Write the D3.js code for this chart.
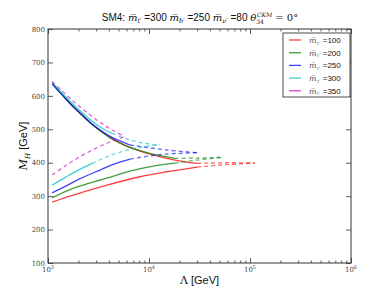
<!DOCTYPE html>
<html>
<head>
<meta charset="utf-8">
<script src="https://cdn.jsdelivr.net/npm/d3@7"></script>
<style>
  body { margin: 0; background: #fff; }
  svg { display: block; }
</style>
</head>
<body>
<svg id="chart" width="390" height="293"></svg>
<script>
// series labels (m_tau' values) and colours
const masses = [100, 200, 250, 300, 350];
const colors = ['#ff0000', '#008000', '#0000ff', '#00bfbf', '#bf00bf'];

// lower (vacuum stability) branches, [Lambda GeV, M_H GeV]
const lower100 = [[1100, 282], [1770, 303], [3840, 333], [8150, 358], [15000, 373], [30000, 387], [56000, 394], [112000, 399]];
const lower200 = [[1100, 295], [1770, 323], [3840, 354], [6500, 375], [11000, 390], [18000, 399], [30000, 408], [53000, 416]];
const lower250 = [[1100, 310], [1500, 330], [2000, 350], [3270, 378], [4500, 396], [6500, 411], [10000, 420], [15000, 426], [30000, 430]];
const lower300 = [[1100, 333], [1500, 357], [2000, 378], [2750, 398], [4000, 420], [6000, 437], [9000, 448], [12800, 453]];
const lower350 = [[1100, 363], [1473, 390], [2075, 418], [2920, 442], [4110, 462], [5780, 478]];

// upper (triviality) branches
const upper100 = [[1100, 638], [1377, 605], [1730, 572], [2173, 543], [2730, 515], [3430, 492], [4305, 472], [5780, 452], [8150, 435], [11460, 422], [18090, 408], [29870, 398], [60000, 400], [112000, 399]];
const upper200 = [[1100, 637], [1377, 604], [1730, 571], [2173, 542], [2730, 514], [3430, 491], [4305, 471], [5780, 452], [8150, 436], [11460, 424], [18000, 413], [30000, 414], [53000, 416]];
const upper250 = [[1100, 635], [1377, 603], [1730, 571], [2173, 543], [2730, 516], [3430, 494], [4305, 476], [6500, 453], [15000, 438], [30000, 430]];
const upper300 = [[1100, 640], [1377, 608], [1730, 578], [2173, 550], [2730, 524], [3430, 503], [4300, 488], [6500, 468], [9000, 458], [12800, 453]];
const upper350 = [[1100, 643], [1377, 615], [1730, 587], [2173, 562], [2730, 538], [3430, 517], [4305, 498], [5780, 478]];

// Lambda where the solid part of each branch stops (dashed after)
const lowerSolidTo = [30000, 18000, 6500, 2750, 1100];
const upperSolidTo = [29870, 18000, 6500, 4300, 1100];

const lowers = [lower100, lower200, lower250, lower300, lower350];
const uppers = [upper100, upper200, upper250, upper300, upper350];

const yTicks = [100, 200, 300, 400, 500, 600, 700, 800];
const xTicks = [1e3, 1e4, 1e5, 1e6];

const pLeft = 48, pRight = 351, pTop = 29, pBottom = 263;
const svg = d3.select('#chart');

const x = d3.scaleLog().domain([1e3, 1e6]).range([pLeft, pRight]);
const y = d3.scaleLinear().domain([100, 800]).range([pBottom, pTop]);

let minor = [];
for (let e = 3; e < 6; e++) {
  for (let k = 2; k < 10; k++) minor.push(k * Math.pow(10, e));
}

const serif = "'DejaVu Serif', 'Liberation Serif', serif";
const sans = "'Liberation Sans', 'DejaVu Sans', sans-serif";

// curves
const line = d3.line()
  .x(d => x(d[0]))
  .y(d => y(d[1]))
  .curve(d3.curveCatmullRom.alpha(0.5));

const plot = svg.append('g');

const drawBranch = (pts, cut, color) => {
  let solid = pts.filter(d => d[0] <= cut);
  let dashed = pts.filter(d => d[0] >= cut);
  if (solid.length > 1) {
    plot.append('path')
    .attr('d', line(solid))
    .attr('fill', 'none')
    .attr('stroke', color)
    .attr('stroke-opacity', 0.75)
    .attr('stroke-width', 1.3);
  }
  if (dashed.length > 1) {
    plot.append('path')
    .attr('d', line(dashed))
    .attr('fill', 'none')
    .attr('stroke', color)
    .attr('stroke-opacity', 0.6)
    .attr('stroke-width', 1.3)
    .attr('stroke-dasharray', '4,3');
  }
};

for (let i = 0; i < masses.length; i++) {
  drawBranch(lowers[i], lowerSolidTo[i], colors[i]);
  drawBranch(uppers[i], upperSolidTo[i], colors[i]);
}

// axes, ticks pointing inward
const tickStyle = (g) => {
  g.select('.domain').remove();
  g.selectAll('line').attr('stroke', '#333').attr('stroke-width', 0.8);
};

svg.append('g')
.attr('transform', `translate(0,${pBottom})`)
.call(d3.axisBottom(x).tickValues(xTicks).tickSizeInner(-5).tickFormat(() => ''))
.call(tickStyle);
svg.append('g')
.attr('transform', `translate(0,${pBottom})`)
.call(d3.axisBottom(x).tickValues(minor).tickSizeInner(-2.5).tickFormat(() => ''))
.call(tickStyle);
svg.append('g')
.attr('transform', `translate(0,${pTop})`)
.call(d3.axisTop(x).tickValues(xTicks).tickSizeInner(-5).tickFormat(() => ''))
.call(tickStyle);
svg.append('g')
.attr('transform', `translate(0,${pTop})`)
.call(d3.axisTop(x).tickValues(minor).tickSizeInner(-2.5).tickFormat(() => ''))
.call(tickStyle);

const yAxis = svg.append('g')
.attr('transform', `translate(${pLeft},0)`)
.call(d3.axisLeft(y).tickValues(yTicks).tickSizeInner(-5).tickPadding(3))
.call(tickStyle);
yAxis.selectAll('text')
.attr('font-family', serif)
.attr('font-size', 7)
.attr('fill', '#444');

svg.append('g')
.attr('transform', `translate(${pRight},0)`)
.call(d3.axisRight(y).tickValues(yTicks).tickSizeInner(-5).tickFormat(() => ''))
.call(tickStyle);

// x tick labels 10^n
xTicks.forEach(v => {
  let t = svg.append('text')
  .attr('x', x(v))
  .attr('y', pBottom + 9)
  .attr('text-anchor', 'middle')
  .attr('font-family', serif)
  .attr('font-size', 7)
  .attr('fill', '#444');
  t.append('tspan').text('10');
  t.append('tspan').attr('dy', -3).attr('font-size', 5).text(Math.log10(v));
});

// frame
svg.append('rect')
.attr('x', pLeft)
.attr('y', pTop)
.attr('width', pRight - pLeft)
.attr('height', pBottom - pTop)
.attr('fill', 'none')
.attr('stroke', '#333')
.attr('stroke-width', 1);

// title
const title = svg.append('text')
.attr('x', 200)
.attr('y', 21)
.attr('text-anchor', 'middle')
.attr('font-family', sans)
.attr('font-size', 10)
.attr('fill', '#111');

const mbar = (parent, sub, value) => {
  parent.append('tspan').attr('font-family', serif).attr('font-style', 'italic').text('m\u0305');
  parent.append('tspan').attr('font-family', serif).attr('font-style', 'italic')
  .attr('font-size', 6.5).attr('dy', 2).text(sub);
  parent.append('tspan').attr('dy', -2).text(' =' + value + ' ');
};
title.append('tspan').text('SM4: ');
mbar(title, "t\u2032", 300);
mbar(title, "b\u2032", 250);
mbar(title, "\u03bd\u2032", 80);
title.append('tspan').attr('font-family', serif).attr('font-style', 'italic').text('\u03b8');
title.append('tspan').attr('font-family', serif).attr('font-size', 6).attr('dy', 2.5).text('34');
title.append('tspan').attr('font-family', serif).attr('font-style', 'italic').attr('font-size', 6)
.attr('dx', -7).attr('dy', -7).text('CKM');
title.append('tspan').attr('font-family', serif).attr('dy', 4.5).text(' = 0\u00b0');

// axis labels
const yl = svg.append('text')
.attr('transform', `translate(27,${(pTop + pBottom) / 2}) rotate(-90)`)
.attr('text-anchor', 'middle')
.attr('font-family', sans)
.attr('font-size', 11)
.attr('fill', '#111');
yl.append('tspan').attr('font-family', serif).attr('font-style', 'italic').text('M');
yl.append('tspan').attr('font-family', serif).attr('font-style', 'italic').attr('font-size', 7).attr('dy', 2.5).text('H');
yl.append('tspan').attr('dy', -2.5).text(' [GeV]');

const xl = svg.append('text')
.attr('x', (pLeft + pRight) / 2)
.attr('y', 284)
.attr('text-anchor', 'middle')
.attr('font-family', sans)
.attr('font-size', 11)
.attr('fill', '#111');
xl.append('tspan').attr('font-family', serif).text('\u039b');
xl.append('tspan').text(' [GeV]');

// legend
const legend = svg.append('g');
legend.append('rect')
.attr('x', 283)
.attr('y', 33)
.attr('width', 67)
.attr('height', 64)
.attr('fill', '#fff')
.attr('stroke', '#222')
.attr('stroke-width', 0.8);

masses.forEach((m, i) => {
  let ly = 40 + i * 12.7;
  legend.append('line')
  .attr('x1', 289)
  .attr('x2', 301)
  .attr('y1', ly)
  .attr('y2', ly)
  .attr('stroke', colors[i])
  .attr('stroke-opacity', 0.75)
  .attr('stroke-width', 1.3);
  let t = legend.append('text')
  .attr('x', 309)
  .attr('y', ly + 3)
  .attr('font-family', sans)
  .attr('font-size', 8)
  .attr('fill', '#111');
  t.append('tspan').attr('font-family', serif).attr('font-style', 'italic').attr('fill', '#555').text('m\u0305');
  t.append('tspan').attr('font-family', serif).attr('font-style', 'italic').attr('fill', '#555')
  .attr('font-size', 5).attr('dy', 1.5).text('\u03c4\u2032');
  t.append('tspan').attr('dy', -1.5).text(' =' + m);
});
</script>
</body>
</html>
